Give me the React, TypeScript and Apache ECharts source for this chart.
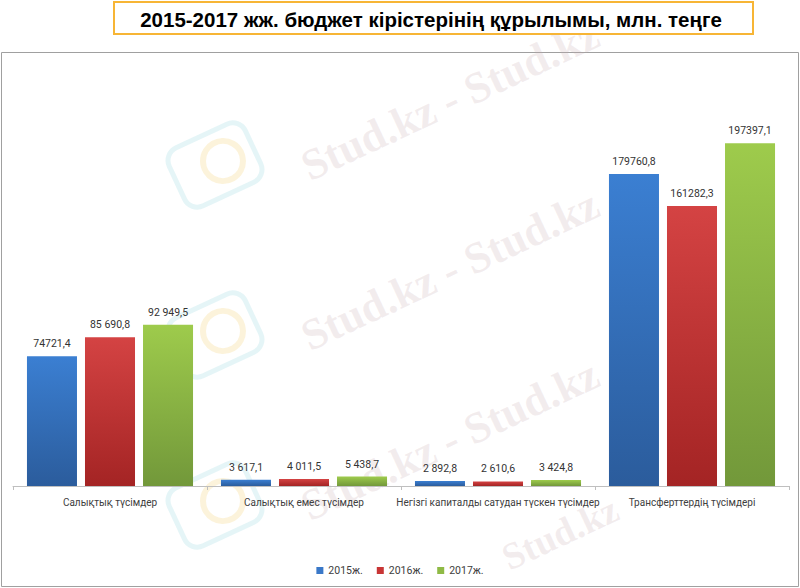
import React, { useEffect, useRef } from "react";
import * as echarts from "echarts";

const categories = [
  "Салықтық түсімдер",
  "Салықтық емес түсімдер",
  "Негізгі капиталды сатудан түскен түсімдер",
  "Трансферттердің түсімдері",
];
const seriesNames = ["2015ж.", "2016ж.", "2017ж."];
const values2015 = [74721.4, 3617.1, 2892.8, 179760.8];
const values2016 = [85690.8, 4011.5, 2610.6, 161282.3];
const values2017 = [92949.5, 5438.7, 3424.8, 197397.1];
const labels2015 = ["74721,4", "3 617,1", "2 892,8", "179760,8"];
const labels2016 = ["85 690,8", "4 011,5", "2 610,6", "161282,3"];
const labels2017 = ["92 949,5", "5 438,7", "3 424,8", "197397,1"];
const titleText = "2015-2017 жж. бюджет кірістерінің құрылымы, млн. теңге";

const FONT = "Roboto, 'Noto Sans', sans-serif";

function grad(top: string, bottom: string) {
  return new echarts.graphic.LinearGradient(0, 0, 0, 1, [
    { offset: 0, color: top },
    { offset: 1, color: bottom },
  ]);
}

export default function App() {
  const ref = useRef<HTMLDivElement>(null);
  useEffect(() => {
    if (!ref.current) return;
    const chart = echarts.init(ref.current, undefined, { renderer: "svg" });
    const colors = [
      grad("#3b7fd2", "#2b5c9c"),
      grad("#d44343", "#a42424"),
      grad("#9ecb4c", "#72983a"),
    ];
    const data = [values2015, values2016, values2017];
    const labels = [labels2015, labels2016, labels2017];
    const legendColors = ["#3a78c8", "#c83535", "#8fba45"];

    const watermarks: any[] = [];
    const wmRows = [
      { x: 450, y: 100, t: "Stud.kz - Stud.kz", s: 44 },
      { x: 450, y: 270, t: "Stud.kz - Stud.kz", s: 44 },
      { x: 450, y: 440, t: "Stud.kz - Stud.kz", s: 44 },
      { x: 560, y: 533, t: "Stud.kz", s: 38 },
    ];
    wmRows.forEach((p) => {
      watermarks.push({
        type: "text",
        x: p.x,
        y: p.y,
        rotation: (25 * Math.PI) / 180,
        z: 0,
        silent: true,
        style: {
          text: p.t,
          font: `bold ${p.s}px 'Liberation Serif', serif`,
          fill: "rgba(200,170,175,0.22)",
          align: "center",
          verticalAlign: "middle",
        },
      });
    });
    [
      { x: 215, y: 165 },
      { x: 215, y: 335 },
      { x: 215, y: 505 },
    ].forEach((p) => {
      watermarks.push({
        type: "rect",
        x: p.x,
        y: p.y,
        rotation: (25 * Math.PI) / 180,
        silent: true,
        z: 0,
        shape: { x: -42, y: -32, width: 84, height: 64, r: 14 },
        style: { fill: "none", stroke: "rgba(150,215,225,0.25)", lineWidth: 5 },
      });
      watermarks.push({
        type: "circle",
        x: p.x + 8,
        y: p.y - 4,
        silent: true,
        z: 0,
        shape: { cx: 0, cy: 0, r: 20 },
        style: { fill: "none", stroke: "rgba(240,200,90,0.22)", lineWidth: 6 },
      });
    });

    chart.setOption({
      animation: false,
      backgroundColor: "#ffffff",
      textStyle: { fontFamily: FONT },
      graphic: [
        {
          type: "rect",
          shape: { x: 1.5, y: 52.5, width: 797, height: 534 },
          style: { fill: "none", stroke: "#a0a0a0", lineWidth: 1 },
          silent: true,
          z: 0,
        },
        ...watermarks,
        {
          type: "rect",
          shape: { x: 114, y: 2, width: 639, height: 32 },
          style: { fill: "#ffffff", stroke: "#f7b535", lineWidth: 2 },
          z: 1,
        },
        {
          type: "text",
          x: 431,
          y: 19,
          z: 2,
          style: {
            text: titleText,
            font: "bold 20.5px 'Liberation Sans', Arial, sans-serif",
            fill: "#000000",
            align: "center",
            verticalAlign: "middle",
          },
        },
      ],
      legend: {
        top: 560,
        left: "center",
        icon: "rect",
        itemWidth: 7,
        itemHeight: 7,
        itemGap: 14,
        textStyle: { fontSize: 10.5, color: "#404040", fontFamily: FONT },
        data: seriesNames.map((n, i) => ({
          name: n,
          itemStyle: { color: legendColors[i] },
        })),
      },
      grid: { left: 13, right: 11, top: 52, bottom: 102, containLabel: false },
      xAxis: {
        type: "category",
        data: categories,
        axisLine: { lineStyle: { color: "#bfbfbf" } },
        axisTick: { show: true, length: 4, lineStyle: { color: "#bfbfbf" } },
        axisLabel: {
          color: "#404040",
          fontSize: 10,
          margin: 11,
          interval: 0,
          fontFamily: FONT,
        },
      },
      yAxis: {
        type: "value",
        min: 0,
        max: 250000,
        show: false,
        splitLine: { show: false },
      },
      series: seriesNames.map((name, i) => ({
        name,
        type: "bar",
        data: data[i],
        barGap: "16%",
        barCategoryGap: "14.4%",
        itemStyle: { color: colors[i] },
        label: {
          show: true,
          position: "top",
          distance: 7,
          color: "#333333",
          fontSize: 10.5,
          fontFamily: FONT,
          formatter: (p: any) => labels[i][p.dataIndex],
        },
      })),
    });
    return () => chart.dispose();
  }, []);
  return (
    <div
      ref={ref}
      style={{ position: "fixed", left: 0, top: 0, width: 800, height: 588 }}
    />
  );
}
